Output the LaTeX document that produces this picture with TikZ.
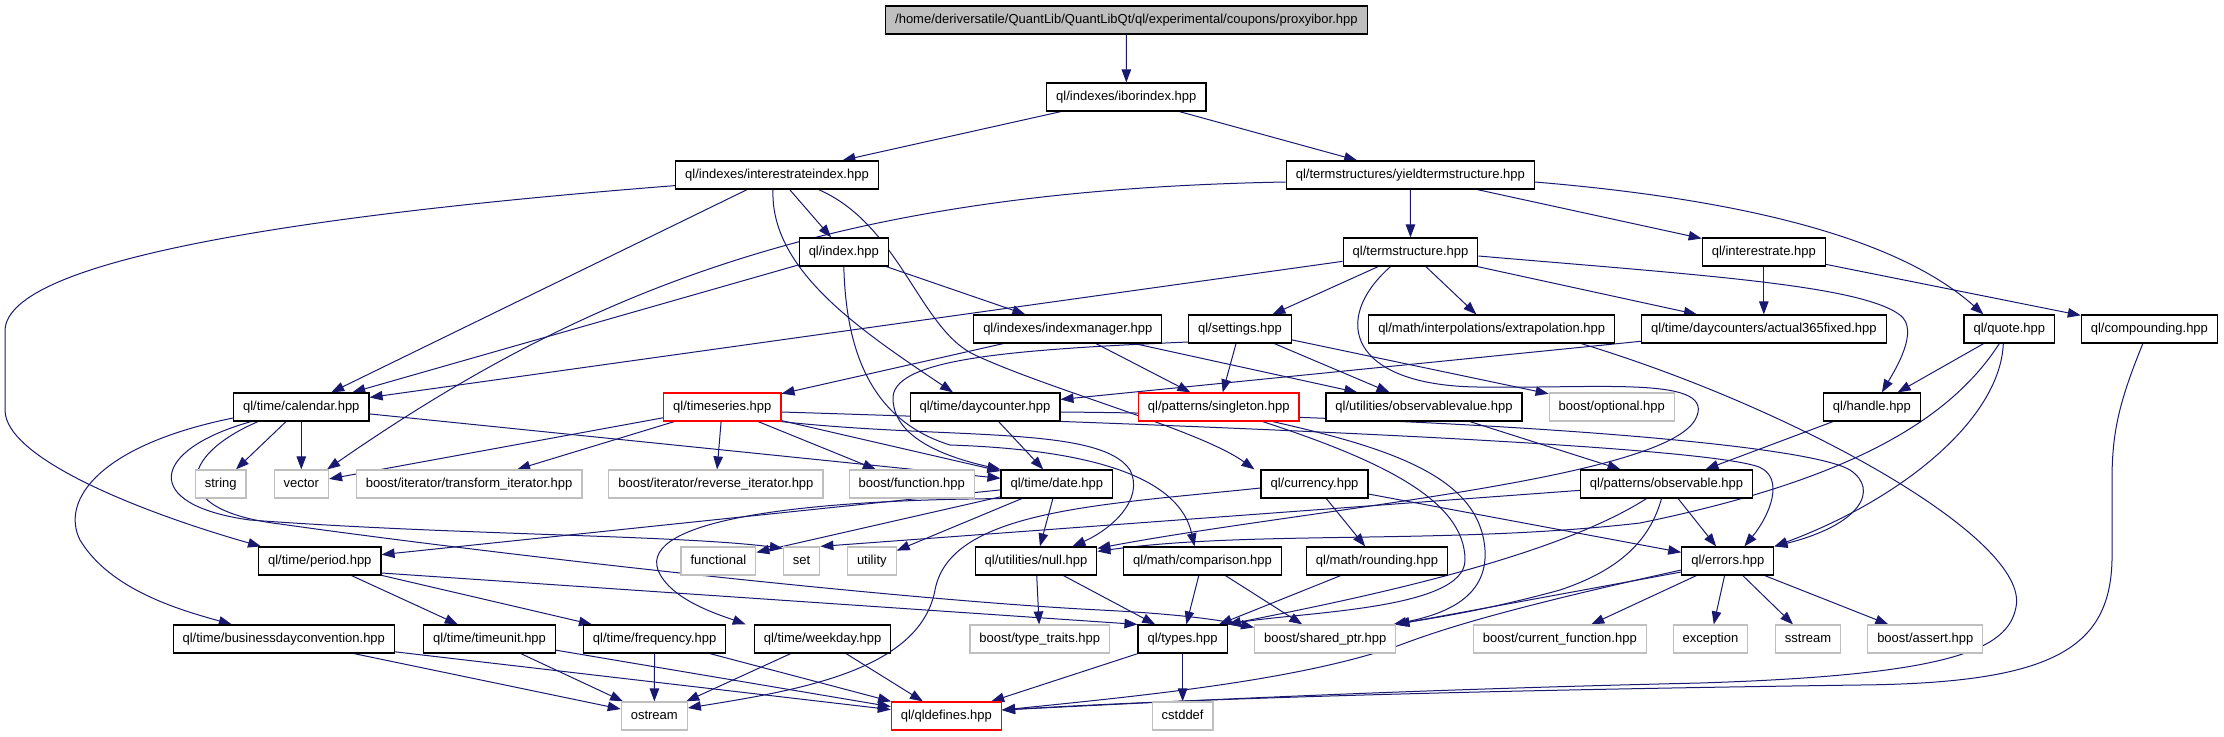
\documentclass[tikz,border=0pt]{standalone}
\usepackage{fontspec}
\setmainfont{Liberation Sans}
\usetikzlibrary{arrows.meta}
\pgfdeclarelayer{bg}
\pgfsetlayers{bg,main}
\definecolor{edgec}{HTML}{191970}
\definecolor{grayb}{HTML}{BFBFBF}
\begin{document}
\begin{tikzpicture}[x=1pt,y=-1pt,
  nb/.style={draw=black,line width=1.2pt,fill=white,minimum height=28pt,inner xsep=9.5pt,inner ysep=0pt,text height=9.4pt,text depth=2.8pt,font=\fontsize{13}{15}\selectfont},
  gb/.style={nb,draw=grayb},
  rb/.style={nb,draw=red},
  tb/.style={nb,fill=grayb},
  dep/.style={draw=edgec,line width=1pt,-{Triangle[length=13pt,width=9.5pt]}}]
\useasboundingbox (0,0) rectangle (2224,736);
% nodes
\node[tb] (top) at (1126.4,20) {/home/deriversatile/QuantLib/QuantLibQt/ql/experimental/coupons/proxyibor.hpp};
\node[nb] (ibor) at (1126.3,97) {ql/indexes/iborindex.hpp};
\node[nb] (iri) at (777,175) {ql/indexes/interestrateindex.hpp};
\node[nb] (yts) at (1410.3,175) {ql/termstructures/yieldtermstructure.hpp};
\node[nb] (idx) at (843.8,252) {ql/index.hpp};
\node[nb] (ts) at (1410.5,252) {ql/termstructure.hpp};
\node[nb] (ir) at (1763.8,252) {ql/interestrate.hpp};
\node[nb] (im) at (1067.8,329) {ql/indexes/indexmanager.hpp};
\node[nb] (settings) at (1240,329) {ql/settings.hpp};
\node[nb] (extr) at (1491.7,329) {ql/math/interpolations/extrapolation.hpp};
\node[nb] (act) at (1763.9,329) {ql/time/daycounters/actual365fixed.hpp};
\node[nb] (quote) at (2009.3,329) {ql/quote.hpp};
\node[nb] (comp) at (2149.4,329) {ql/compounding.hpp};
\node[nb] (cal) at (301.3,407) {ql/time/calendar.hpp};
\node[rb] (tser) at (722.3,407) {ql/timeseries.hpp};
\node[nb] (dc) at (985,407) {ql/time/daycounter.hpp};
\node[rb] (sing) at (1218.7,407) {ql/patterns/singleton.hpp};
\node[nb] (obsv) at (1424,407) {ql/utilities/observablevalue.hpp};
\node[gb] (opt) at (1611.8,407) {boost/optional.hpp};
\node[nb] (handle) at (1871.9,407) {ql/handle.hpp};
\node[gb] (str) at (220.7,484) {string};
\node[gb] (vec) at (301.3,484) {vector};
\node[gb] (tri) at (469.1,484) {boost/iterator/transform\_iterator.hpp};
\node[gb] (rvi) at (715.9,484) {boost/iterator/reverse\_iterator.hpp};
\node[gb] (func) at (911.8,484) {boost/function.hpp};
\node[nb] (date) at (1056.8,484) {ql/time/date.hpp};
\node[nb] (cur) at (1314.5,484) {ql/currency.hpp};
\node[nb] (obs) at (1666.5,484) {ql/patterns/observable.hpp};
\node[nb] (period) at (319.8,561) {ql/time/period.hpp};
\node[gb] (fnl) at (718.4,561) {functional};
\node[gb] (setn) at (801.6,561) {set};
\node[gb] (util) at (871.8,561) {utility};
\node[nb] (null) at (1036,561) {ql/utilities/null.hpp};
\node[nb] (cmp) at (1202.5,561) {ql/math/comparison.hpp};
\node[nb] (rnd) at (1377,561) {ql/math/rounding.hpp};
\node[nb] (err) at (1727.8,561) {ql/errors.hpp};
\node[nb] (bdc) at (283.8,639) {ql/time/businessdayconvention.hpp};
\node[nb] (tu) at (489.6,639) {ql/time/timeunit.hpp};
\node[nb] (freq) at (654.6,639) {ql/time/frequency.hpp};
\node[nb] (wd) at (822.6,639) {ql/time/weekday.hpp};
\node[gb] (tt) at (1039.8,639) {boost/type\_traits.hpp};
\node[nb] (types) at (1182.6,639) {ql/types.hpp};
\node[gb] (sp) at (1325.2,639) {boost/shared\_ptr.hpp};
\node[gb] (cf) at (1559.8,639) {boost/current\_function.hpp};
\node[gb] (exc) at (1710.5,639) {exception};
\node[gb] (ss) at (1808,639) {sstream};
\node[gb] (ass) at (1925.3,639) {boost/assert.hpp};
\node[gb] (ostr) at (654.3,716) {ostream};
\node[rb] (qld) at (946.4,716) {ql/qldefines.hpp};
\node[gb] (cstd) at (1182.6,716) {cstddef};
% edges
\begin{pgfonlayer}{bg}
\draw[dep] (top) -- (ibor);
\draw[dep] (ibor) -- (iri);
\draw[dep] (ibor) -- (yts);
\draw[dep] (iri) -- (idx);
\draw[dep] (iri) -- (cal);
\draw[dep] ([yshift=4pt]iri.south west) .. controls (300,215) and (8,260) .. (5,330) -- (5,410) .. controls (5,460) and (150,515) .. ([xshift=3pt]period.north west);
\draw[dep] ([xshift=-4pt]iri.south) .. controls (770,270) and (860,330) .. ([xshift=-32pt]dc.north);
\draw[dep] ([xshift=41.6pt]iri.south) .. controls (900,225) and (920,330) .. (975,355) .. controls (1050,390) and (1200,430) .. ([xshift=-6pt]cur.north west);
\draw[dep] (yts) -- (ts);
\draw[dep] (yts) -- (ir);
\draw[dep] ([yshift=-7pt]yts.east) .. controls (1750,200) and (1900,240) .. ([xshift=20pt]quote.north west);
\draw[dep] ([yshift=-7pt]yts.west) .. controls (850,190) and (600,280) .. ([xshift=-2pt]vec.north east);
\draw[dep] (idx) -- (im);
\draw[dep] (idx) -- (cal);
\draw[dep] (idx.south) .. controls (846,350) and (870,420) .. (950,445) .. controls (1100,450) and (1180,480) .. ([xshift=-8pt]cmp.north);
\draw[dep] (ts) -- (cal);
\draw[dep] (ts) -- (settings);
\draw[dep] (ts) -- (extr);
\draw[dep] (ts) -- (act);
\draw[dep] ([yshift=-4pt]ts.east) .. controls (1700,275) and (1860,285) .. (1900,315) .. controls (1920,330) and (1895,370) .. ([xshift=10pt]handle.north);
\draw[dep] ([xshift=-20pt]ts.south) .. controls (1330,320) and (1350,385) .. (1477,387) .. controls (1600,389) and (1720,375) .. (1695,420) .. controls (1660,480) and (1300,510) .. ([yshift=-2pt]null.north east);
\draw[dep] (ir.south) -- (ir.south |- act.north);
\draw[dep] (ir) -- (comp);
\draw[dep] (im) -- (tser);
\draw[dep] (im) -- (sing);
\draw[dep] (im) -- (obsv);
\draw[dep] (settings) -- (sing);
\draw[dep] (settings) -- (obsv);
\draw[dep] (settings) -- (opt);
\draw[dep] ([yshift=-13pt]settings.west) .. controls (1000,350) and (890,360) .. (893,400) .. controls (895,440) and (950,458) .. (date.north west);
\draw[dep] (act) -- (dc);
\draw[dep] (quote) -- (handle);
\draw[dep] ([xshift=-6pt]quote.south) .. controls (2000,420) and (1900,500) .. (err.north east);
\draw[dep] ([xshift=-10pt]quote.south) .. controls (1950,420) and (1850,480) .. (1640,523) .. controls (1450,545) and (1250,530) .. ([yshift=-5pt]null.north east);
\draw[dep] ([xshift=-6.6pt]comp.south) .. controls (2120,400) and (2112,430) .. (2112,480) -- (2112,560) .. controls (2110,650) and (2050,683) .. (1860,685) .. controls (1500,690) and (1200,698) .. ([yshift=6pt]qld.east);
\draw[dep] ([xshift=-34pt]extr.south east) .. controls (1800,410) and (2030,540) .. (2016,607) .. controls (2008,650) and (1950,675) .. (1700,683) .. controls (1400,690) and (1200,700) .. ([yshift=6pt]qld.east);
\draw[dep] (cal) -- (str);
\draw[dep] (cal) -- (vec);
\draw[dep] (cal) -- (date);
\draw[dep] ([yshift=-11pt]cal.west) .. controls (100,445) and (60,500) .. (80,540) .. controls (110,590) and (180,610) .. ([xshift=-52pt]bdc.north);
\draw[dep] ([xshift=18pt]cal.south west) .. controls (150,450) and (140,505) .. (250,520) .. controls (450,535) and (680,535) .. ([yshift=-2pt]setn.north west);
\draw[dep] ([xshift=25pt]cal.south west) .. controls (180,455) and (165,510) .. (280,524) .. controls (500,555) and (900,600) .. (1100,610) .. controls (1180,614) and (1220,620) .. ([yshift=-3pt]sp.north west);
\draw[dep] (tser) -- (vec);
\draw[dep] (tser) -- (tri);
\draw[dep] (tser) -- (rvi);
\draw[dep] (tser) -- (func);
\draw[dep] (tser) -- (date);
\draw[dep] (tser.south east) .. controls (950,440) and (1100,425) .. (1130,470) .. controls (1145,500) and (1110,530) .. ([xshift=-25pt]null.north east);
\draw[dep] ([yshift=-5pt]tser.east) .. controls (1200,425) and (1700,445) .. (1759,467) .. controls (1785,478) and (1770,515) .. ([xshift=-30pt]err.north east);
\draw[dep] (dc) -- (date);
\draw[dep] ([yshift=-5pt]dc.east) .. controls (1400,415) and (1800,440) .. (1850,470) .. controls (1880,490) and (1860,525) .. (err.north east);
\draw[dep] ([xshift=54pt]sing.south) .. controls (1400,450) and (1480,480) .. (1485,550) .. controls (1488,600) and (1440,615) .. ([xshift=-3pt]sp.north east);
\draw[dep] ([xshift=44pt]sing.south) .. controls (1380,460) and (1465,500) .. (1465,560) .. controls (1465,610) and (1300,612) .. (types.north east);
\draw[dep] (obsv) -- (obs);
\draw[dep] (handle) -- (obs);
\draw[dep] (date) -- (period);
\draw[dep] (date.south west) .. controls (800,500) and (640,520) .. (658,570) .. controls (670,600) and (720,615) .. ([xshift=-8pt]wd.north west);
\draw[dep] (date) -- (fnl);
\draw[dep] (date) -- (util);
\draw[dep] (date) -- (null);
\draw[dep] (cur) -- (rnd);
\draw[dep] (cur) -- (err);
\draw[dep] ([yshift=-4pt]cur.west) .. controls (1100,505) and (950,510) .. (935,590) .. controls (920,670) and (800,690) .. ([yshift=8pt]ostr.east);
\draw[dep] (obs) -- (setn.north east);
\draw[dep] (obs) -- (err);
\draw[dep] ([xshift=-20pt]obs.south) .. controls (1550,560) and (1350,600) .. (types.north east);
\draw[dep] ([xshift=-5pt]obs.south) .. controls (1650,540) and (1620,570) .. (1560,590) .. controls (1480,612) and (1420,620) .. (sp.north east);
\draw[dep] (period) -- (tu);
\draw[dep] (period) -- (freq);
\draw[dep] ([yshift=-12pt]period.east) -- (types.north west);
\draw[dep] (null) -- (types);
\draw[dep] (null) -- (tt);
\draw[dep] (cmp) -- (types);
\draw[dep] (cmp) -- (sp);
\draw[dep] (rnd) -- (types);
\draw[dep] (err) -- (cf);
\draw[dep] (err) -- (exc);
\draw[dep] (err) -- (ss);
\draw[dep] (err) -- (ass);
\draw[dep] ([yshift=-11pt]err.west) -- (sp.north east);
\draw[dep] ([yshift=-9pt]err.west) .. controls (1500,610) and (1440,630) .. (1400,645) .. controls (1300,680) and (1150,695) .. ([yshift=6pt]qld.east);
\draw[dep] (types) -- (qld);
\draw[dep] (types) -- (cstd);
\draw[dep] (bdc) -- (ostr);
\draw[dep] (bdc) -- (qld);
\draw[dep] (tu) -- (ostr);
\draw[dep] (tu) -- (qld);
\draw[dep] (freq) -- (ostr);
\draw[dep] (freq) -- (qld);
\draw[dep] (wd) -- (ostr);
\draw[dep] (wd) -- (qld);
\end{pgfonlayer}
\end{tikzpicture}
\end{document}
